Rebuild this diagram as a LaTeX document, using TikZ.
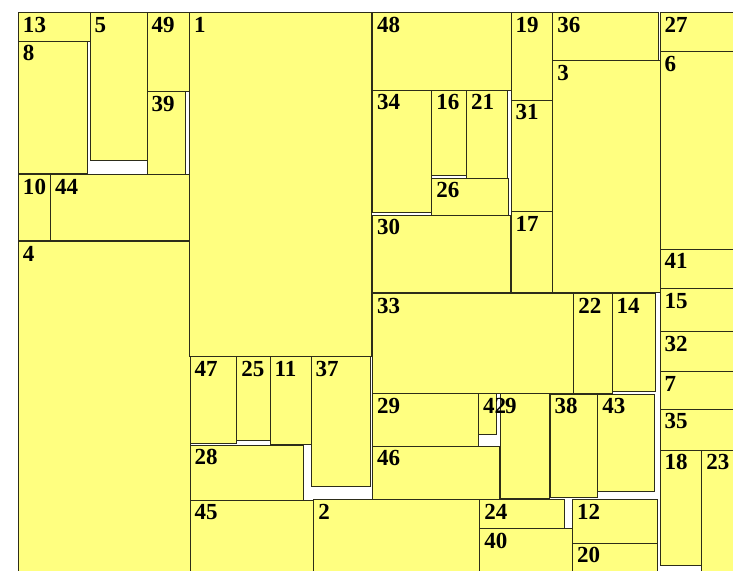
\documentclass[tikz,border=0pt]{standalone}
\usepackage{fontspec}
\setmainfont{Liberation Serif}
\definecolor{cellfill}{RGB}{255,255,128}
\definecolor{celledge}{RGB}{45,45,25}
\tikzset{
  cell/.style={fill=cellfill, draw=celledge, line width=1pt},
  lbl/.style={anchor=base west, inner sep=0pt, font=\fontsize{23}{26}\selectfont\bfseries, text=black}
}
\newcommand\cellbox[5]{%
  \draw[cell] (#1,#2) rectangle (#3,#4);
  \node[lbl] (n#5) at ({#1+4.5},{#2+19.8}) {#5};
}
\begin{document}
\begin{tikzpicture}[x=1pt,y=-1pt]
\useasboundingbox (0,0) rectangle (733,570);
\clip (0,0) rectangle (733,570);
\cellbox{18.3}{12.7}{90}{41}{13}
\cellbox{18.3}{41}{87.7}{173.7}{8}
\cellbox{90}{12.7}{147}{160.7}{5}
\cellbox{147}{12.7}{189}{91.3}{49}
\cellbox{147}{91.3}{185.7}{174.7}{39}
\cellbox{18.3}{174.7}{50.5}{240.7}{10}
\cellbox{50.5}{174.7}{189}{240.7}{44}
\cellbox{18.3}{241.7}{190}{600}{4}
\cellbox{189.3}{12.7}{371.7}{356.7}{1}
\cellbox{372.3}{12.7}{511}{90}{48}
\cellbox{372.3}{90}{431.7}{212.7}{34}
\cellbox{431.7}{90}{466.3}{175.7}{16}
\cellbox{466.3}{90}{507.7}{178}{21}
\cellbox{431.7}{178}{508.7}{215}{26}
\cellbox{372.3}{215}{510.7}{292.7}{30}
\cellbox{511}{12.7}{552.3}{100}{19}
\cellbox{511}{100}{552.3}{211.7}{31}
\cellbox{511}{211.7}{552.3}{292.7}{17}
\cellbox{552.7}{12.7}{658.3}{60.7}{36}
\cellbox{552.7}{60.7}{660}{292.7}{3}
\cellbox{660}{12.7}{760}{51.7}{27}
\cellbox{660}{51.7}{760}{249}{6}
\cellbox{660}{249}{760}{288.3}{41}
\cellbox{660}{288.3}{760}{331.7}{15}
\cellbox{660}{331.7}{760}{371.7}{32}
\cellbox{660}{371.7}{760}{409}{7}
\cellbox{660}{409}{760}{450}{35}
\cellbox{660}{450}{701.7}{565.7}{18}
\cellbox{701.7}{450}{760}{600}{23}
\cellbox{190}{356.7}{236.7}{443.3}{47}
\cellbox{236.7}{356.7}{270}{440}{25}
\cellbox{270}{356.7}{311}{444.3}{11}
\cellbox{311}{356.7}{370.7}{486}{37}
\cellbox{190}{445}{303.7}{500}{28}
\cellbox{190}{500}{313.7}{600}{45}
\cellbox{313.7}{499.3}{479.7}{600}{2}
\cellbox{372.3}{293.3}{573.7}{393.3}{33}
\cellbox{573.7}{293.3}{612}{393.3}{22}
\cellbox{612}{293.3}{655.7}{391}{14}
\cellbox{372.3}{393.3}{478.3}{446}{29}
\cellbox{500.3}{393.3}{549.7}{498.3}{9}
\cellbox{478.3}{393.3}{496}{434.3}{42}
\cellbox{550}{394}{597.7}{497}{38}
\cellbox{597.7}{394}{654.3}{491.3}{43}
\cellbox{372.3}{446}{499.7}{499.3}{46}
\cellbox{479.7}{499.3}{564.3}{528.3}{24}
\cellbox{479.7}{528.3}{572.3}{600}{40}
\cellbox{572.3}{499.7}{657}{543}{12}
\cellbox{572.3}{543}{657}{600}{20}
\end{tikzpicture}
\end{document}
